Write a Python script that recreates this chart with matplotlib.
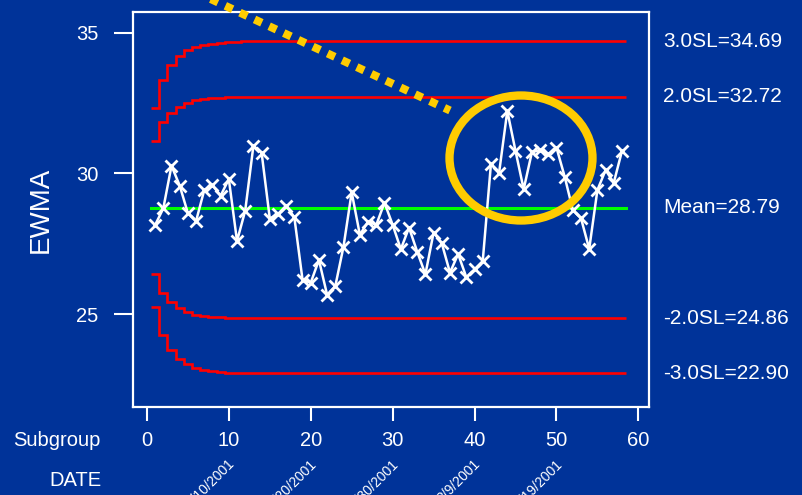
import matplotlib
matplotlib.use('Agg')
import matplotlib.pyplot as plt
import matplotlib.transforms as mtransforms
from matplotlib.patches import Ellipse
from matplotlib.lines import Line2D
import numpy as np

plt.rcParams['font.family'] = 'Liberation Sans'

# EWMA values for subgroups 1..58
subgroup = np.arange(1, 59)
ewma = [28.17, 28.76, 30.27, 29.57, 28.59, 28.31, 29.41, 29.58, 29.21, 29.80,
        27.60, 28.68, 30.98, 30.74, 28.40, 28.56, 28.86, 28.44, 26.22, 26.12,
        26.93, 25.69, 26.00, 27.40, 29.33, 27.82, 28.29, 28.17, 28.96, 28.18,
        27.31, 28.08, 27.22, 26.42, 27.90, 27.52, 26.48, 27.14, 26.31, 26.60,
        26.89, 30.33, 30.03, 32.22, 30.80, 29.44, 30.75, 30.83, 30.68, 30.92,
        29.89, 28.70, 28.41, 27.32, 29.41, 30.12, 29.67, 30.80]

mean = 28.79
ucl3 = [32.33, 33.32, 33.85, 34.17, 34.37, 34.49, 34.56, 34.61, 34.64, 34.66, 34.67] + [34.69] * 47
ucl2 = [31.15, 31.81, 32.16, 32.37, 32.50, 32.59, 32.63, 32.66, 32.68, 32.70, 32.71] + [32.72] * 47
lcl2 = [26.43, 25.77, 25.42, 25.21, 25.08, 24.99, 24.95, 24.92, 24.90, 24.88, 24.87] + [24.86] * 47
lcl3 = [25.25, 24.26, 23.73, 23.41, 23.22, 23.10, 23.02, 22.98, 22.95, 22.93, 22.92] + [22.90] * 47

limit_names = ['3.0SL=34.69', '2.0SL=32.72', 'Mean=28.79', '-2.0SL=24.86', '-3.0SL=22.90']
limit_values = [34.69, 32.72, 28.79, 24.86, 22.90]

date_ticks = [10, 20, 30, 40, 50]
date_labels = ['1/10/2001', '1/20/2001', '1/30/2001', '2/9/2001', '2/19/2001']

bg = '#003399'
yellow = '#FFCC00'
W, H = 802, 495

fig = plt.figure(figsize=(W / 100, H / 100), dpi=100, facecolor=bg)
ax = fig.add_axes([133 / W, 1 - 407 / H, (649 - 133) / W, (407 - 12) / H])
ax.set_facecolor(bg)

edges = np.arange(0.5, 59.5, 1)
for lim in (ucl3, ucl2, lcl2, lcl3):
    ax.stairs(lim, edges, baseline=None, color='#FF0000', lw=1.9)
ax.plot([0.5, 58.5], [mean, mean], color='#00FF00', lw=2.2)
ax.plot(subgroup, ewma, color='white', lw=1.8, marker='x', ms=8.5, mew=2)

ax.set_xlim(-1.7, 61.3)
ax.set_ylim(21.71, 35.73)
ax.set_xticks([0, 10, 20, 30, 40, 50, 60])
ax.set_yticks([25, 30, 35])
for s in ax.spines.values():
    s.set_color('white')
    s.set_linewidth(1.6)
ax.tick_params(axis='x', colors='white', length=10, width=1.5, pad=7, labelsize=14.5)
ax.tick_params(axis='y', colors='white', length=14, width=1.5, pad=11, labelsize=14.5)
ax.set_ylabel('EWMA', color='white', fontsize=20, labelpad=16)

# limit labels on the right
tr = mtransforms.blended_transform_factory(fig.transFigure, ax.transData)
for name, v in zip(limit_names, limit_values):
    ax.text(663 / W, v, name, transform=tr, color='white', fontsize=15,
            ha='left', va='center', clip_on=False)

fig.text(101 / W, 1 - 441 / H, 'Subgroup', color='white', fontsize=14.5, ha='right', va='center')
fig.text(101 / W, 1 - 480 / H, 'DATE', color='white', fontsize=14.5, ha='right', va='center')

trd = mtransforms.blended_transform_factory(ax.transData, fig.transFigure)
for t, lab in zip(date_ticks, date_labels):
    ax.text(t - 0.2, 1 - 457 / H, lab, transform=trd, color='white', fontsize=10,
            rotation=45, rotation_mode='anchor', ha='right', va='top', clip_on=False)

# yellow highlight annotations
fig.add_artist(Line2D([200 / W, 450 / W], [1 + 6 / H, 1 - 110.5 / H], transform=fig.transFigure,
                      color=yellow, lw=5.8, dashes=(1, 1), solid_capstyle='butt',
                      dash_capstyle='butt'))
fig.add_artist(Ellipse((521 / W, 1 - 158 / H), 143 / W, 125 / H, transform=fig.transFigure,
                       fill=False, edgecolor=yellow, lw=6))

fig.savefig('out.png', dpi=100, facecolor=bg)
